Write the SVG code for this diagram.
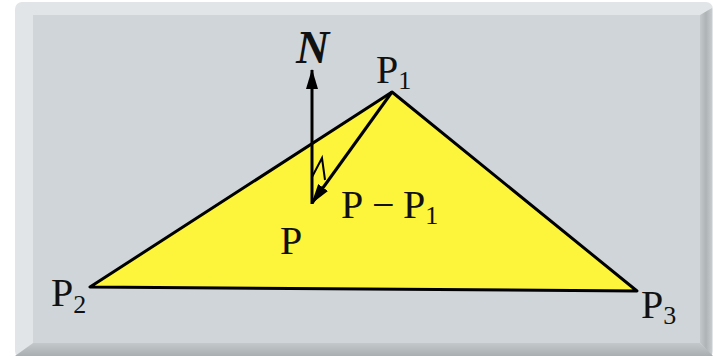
<svg xmlns="http://www.w3.org/2000/svg" width="713" height="356" viewBox="0 0 713 356">
<defs>
<style>
.lbl{font-family:"Liberation Serif","Times New Roman",serif;fill:#111;}
.main{font-size:40px;}
.sub{font-size:26px;}
.edge{stroke:#000;stroke-width:3;fill:#fdf43c;stroke-linejoin:round;}
.vec{stroke:#000;stroke-width:3;fill:none;}
</style>
<marker id="ah" viewBox="0 0 20 12" refX="19" refY="6" markerWidth="20" markerHeight="12" markerUnits="userSpaceOnUse" orient="auto">
<path d="M0,0 L20,6 L0,12 Z" fill="#000"/>
</marker>
<linearGradient id="rb" x1="0" y1="0" x2="1" y2="0">
<stop offset="0" stop-color="#c3c8cb"/>
<stop offset="0.5" stop-color="#aeb3b6"/>
<stop offset="1" stop-color="#c8ccce"/>
</linearGradient>
<linearGradient id="bb" x1="0" y1="0" x2="0" y2="1">
<stop offset="0" stop-color="#c3c8cb"/>
<stop offset="1" stop-color="#a9aeb1"/>
</linearGradient>
</defs>
<g id="frame">
<rect x="15" y="2" width="698" height="356" rx="7" fill="#e2e5e7"/>
<polygon points="712,8 712,356 700,343 700,15" fill="url(#rb)"/>
<polygon points="15,356 713,356 700,343 33,343" fill="url(#bb)"/>
<rect x="33" y="15" width="667" height="328" fill="#cfd5d8"/>
</g>
<g id="triangle">
<polygon class="edge" points="392,92 90,287 637,291"/>
</g>
<g id="connectors">
<line id="normal" class="vec" x1="312" y1="204" x2="312" y2="70" marker-end="url(#ah)"/>
<line id="p-minus-p1" class="vec" x1="392" y1="92" x2="312" y2="203" marker-end="url(#ah)"/>
<polyline id="right-angle" points="312,177 322,158 325,180" fill="none" stroke="#000" stroke-width="2"/>
</g>
<g id="label-N"><text class="lbl" x="296" y="63" font-size="46" font-weight="bold" font-style="italic">N</text></g>
<g id="label-P1"><text class="lbl main" x="376" y="83">P<tspan class="sub" dy="6">1</tspan></text></g>
<g id="label-P2"><text class="lbl main" x="51" y="306">P<tspan class="sub" dy="7">2</tspan></text></g>
<g id="label-P3"><text class="lbl main" x="641" y="318">P<tspan class="sub" dy="6">3</tspan></text></g>
<g id="label-P"><text class="lbl main" x="280" y="254">P</text></g>
<g id="label-PmP1"><text class="lbl main" x="341" y="218">P<tspan x="372">−</tspan><tspan x="403">P</tspan><tspan class="sub" dy="6">1</tspan></text></g>
</svg>
